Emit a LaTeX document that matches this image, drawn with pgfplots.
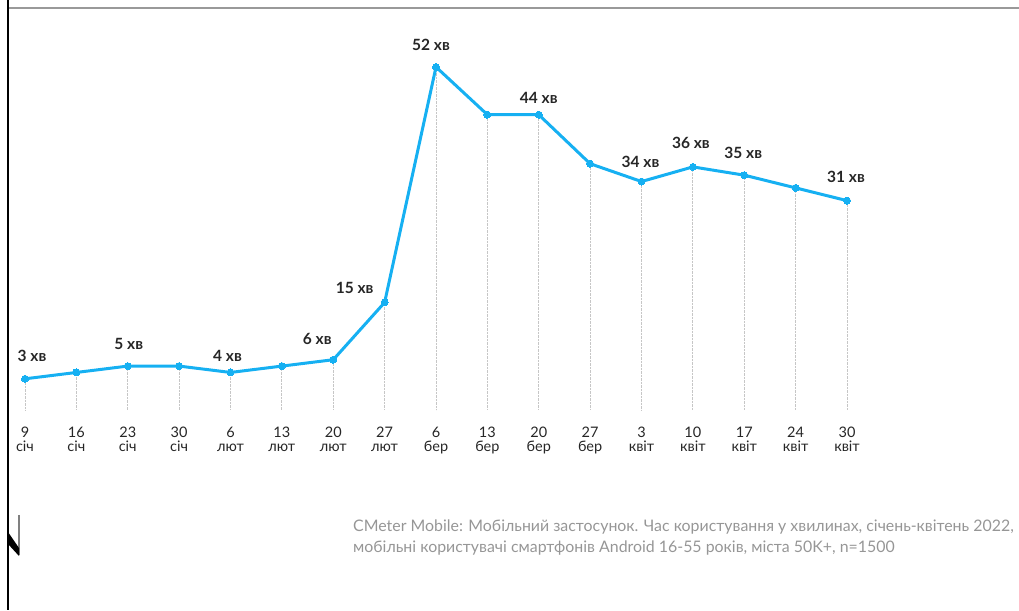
\documentclass[border=0pt]{standalone}
\usepackage{fontspec}
\setmainfont{Lato}
\usepackage{pgfplots}
\usepackage{pgfplotstable}
\pgfplotsset{compat=1.18}
\definecolor{lineblue}{RGB}{22,176,242}
\definecolor{capgray}{RGB}{150,150,150}
\pgfplotstableread{
x y
0 3
1 4
2 5
3 5
4 4
5 5
6 6
7 15
8 52
9 44.5
10 44.5
11 36.8
12 34
13 36.3
14 35
15 33
16 31
}\datatable
\begin{document}
\begin{tikzpicture}[x=1pt,y=1pt]
\useasboundingbox (0,0) rectangle (1019,610);
% frame of the screenshot
\draw[gray!80, line width=1.2pt] (8,602) -- (1019,602);
\draw[black, line width=2pt] (8,610) -- (8,0);
\draw[gray, line width=1.2pt] (19,95) -- (19,55);
\fill[black] (8,78) -- (19,62) -- (19,54) -- (8,66) -- cycle;
\begin{axis}[
  at={(25pt,200pt)}, anchor=south west,
  scale only axis, width=822pt, height=343pt,
  xmin=0, xmax=16, ymin=-1.9, ymax=52,
  enlargelimits=false, clip=false,
  axis line style={draw=none}, tick style={draw=none},
  ytick=\empty,
  xtick={0,...,16},
  xticklabels={9\\січ,16\\січ,23\\січ,30\\січ,6\\лют,13\\лют,20\\лют,27\\лют,6\\бер,13\\бер,20\\бер,27\\бер,3\\квіт,10\\квіт,17\\квіт,24\\квіт,30\\квіт},
  xticklabel style={align=center, font=\fontsize{14.5}{14}\selectfont, text=black!85},
  tick label style={/pgf/number format/assume math mode=true},
  major tick length=0pt,
  every tick label/.append style={inner sep=0pt},
  xticklabel shift=17pt,
]
\addplot[draw=none, mark=none,
  error bars/.cd, y dir=minus, y explicit,
  error bar style={gray!45, densely dotted, line width=0.8pt},
  error mark=none]
  table[x=x, y=y, y error expr=\thisrow{y}+1.9] {\datatable};
\addplot[lineblue, line width=3pt, mark=*, mark size=3.5pt, mark options={line width=0pt, fill=lineblue}]
  table[x=x, y=y] {\datatable};
\begin{scope}[every node/.style={font=\fontsize{15.5}{17}\selectfont\bfseries, text=black!85}]
\node[xshift=7pt, yshift=23pt] at (axis cs:0,3) {3 хв};
\node[xshift=1pt, yshift=22pt] at (axis cs:2,5) {5 хв};
\node[xshift=-3pt, yshift=17pt] at (axis cs:4,4) {4 хв};
\node[xshift=-16pt, yshift=21pt] at (axis cs:6,6) {6 хв};
\node[xshift=-30pt, yshift=14pt] at (axis cs:7,15) {15 хв};
\node[xshift=-5pt, yshift=22pt] at (axis cs:8,52) {52 хв};
\node[xshift=0pt, yshift=17pt] at (axis cs:10,44.5) {44 хв};
\node[xshift=-1pt, yshift=20pt] at (axis cs:12,34) {34 хв};
\node[xshift=-2pt, yshift=24pt] at (axis cs:13,36.3) {36 хв};
\node[xshift=-1pt, yshift=22pt] at (axis cs:14,35) {35 хв};
\node[xshift=-1pt, yshift=24pt] at (axis cs:16,31) {31 хв};
\end{scope}
\end{axis}
\node[anchor=north west, align=left, inner sep=0pt, text=capgray,
  font=\fontsize{15.9}{21}\selectfont] at (353,90)
  {CMeter Mobile: Мобільний застосунок. Час користування у хвилинах, січень-квітень 2022,\\
   мобільні користувачі смартфонів Android 16-55 років, міста 50K+, n=1500};
\end{tikzpicture}
\end{document}
